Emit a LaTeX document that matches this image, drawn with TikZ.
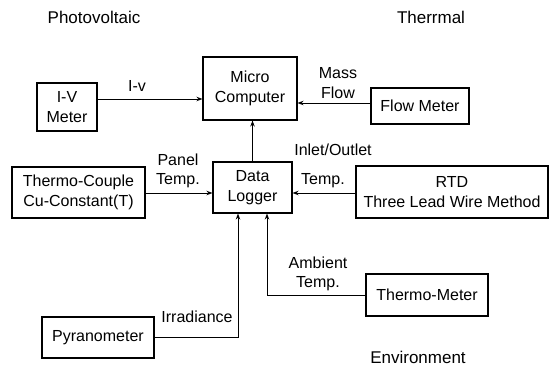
\documentclass[tikz,border=0pt]{standalone}
\usepackage{fontspec}
\setmainfont{Liberation Sans}
\usetikzlibrary{arrows.meta}
\begin{document}
\begin{tikzpicture}[x=1pt,y=-1pt,
  box/.style={draw, line width=1.1pt, inner sep=0pt, align=center, font=\fontsize{16}{19.5}\selectfont},
  lbl/.style={inner sep=0pt, align=center, font=\fontsize{16}{19.5}\selectfont},
  ttl/.style={inner sep=0pt, font=\fontsize{17}{20}\selectfont},
  arr/.style={line width=0.9pt, -{Stealth[length=6pt,width=4.5pt]}},
  wire/.style={line width=0.9pt}]
\useasboundingbox (0,0) rectangle (551,374);
% titles
\node[ttl] (tpv) at (94,17) {Photovoltaic};
\node[ttl] (tth) at (431,17) {Therrmal};
\node[ttl] (tenv) at (418,357) {Environment};
% boxes
\node[box, minimum width=94pt, minimum height=63pt] (mc) at (250,88.5) {Micro\\Computer};
\node[box, minimum width=60pt, minimum height=48pt] (iv) at (67,107) {I-V\\Meter};
\node[box, minimum width=98pt, minimum height=36pt] (fm) at (420,106) {Flow Meter};
\node[box, minimum width=79pt, minimum height=51pt] (dl) at (252.5,187.5) {Data\\Logger};
\node[box, minimum width=133pt, minimum height=51pt] (tc) at (78.5,192.5) {Thermo-Couple\\Cu-Constant(T)};
\node[box, minimum width=192pt, minimum height=52pt] (rtd) at (452,192) {RTD\\Three Lead Wire Method};
\node[box, minimum width=122pt, minimum height=42pt] (tm) at (427,295) {Thermo-Meter};
\node[box, minimum width=112pt, minimum height=41pt] (py) at (98,337.5) {Pyranometer};
% labels
\node[lbl] (liv) at (137,86) {I-v};
\node[lbl] (lmf) at (338,83) {Mass\\Flow};
\node[lbl] (lpt) at (178,171) {Panel\\Temp.};
\node[lbl] (lio) at (333,150) {Inlet/Outlet};
\node[lbl] (lt) at (323,181) {Temp.};
\node[lbl] (lat) at (318,274) {Ambient\\Temp.};
\node[lbl] (lir) at (197,317) {Irradiance};
% connectors
\coordinate (c1) at (238,337);
\coordinate (c2) at (267,295);
\draw[arr] (iv.east |- 0,99) -- (mc.west |- 0,99);
\draw[arr] (fm.west |- 0,103) -- (mc.east |- 0,103);
\draw[arr] (dl.north) -- (dl.north |- mc.south);
\draw[arr] (tc.east |- 0,193) -- (dl.west |- 0,193);
\draw[arr] (rtd.west |- 0,193) -- (dl.east |- 0,193);
\draw[arr] (py.east |- c1) -- (c1) -- (c1 |- dl.south);
\draw[arr] (tm.west |- c2) -- (c2) -- (c2 |- dl.south);
\end{tikzpicture}
\end{document}
